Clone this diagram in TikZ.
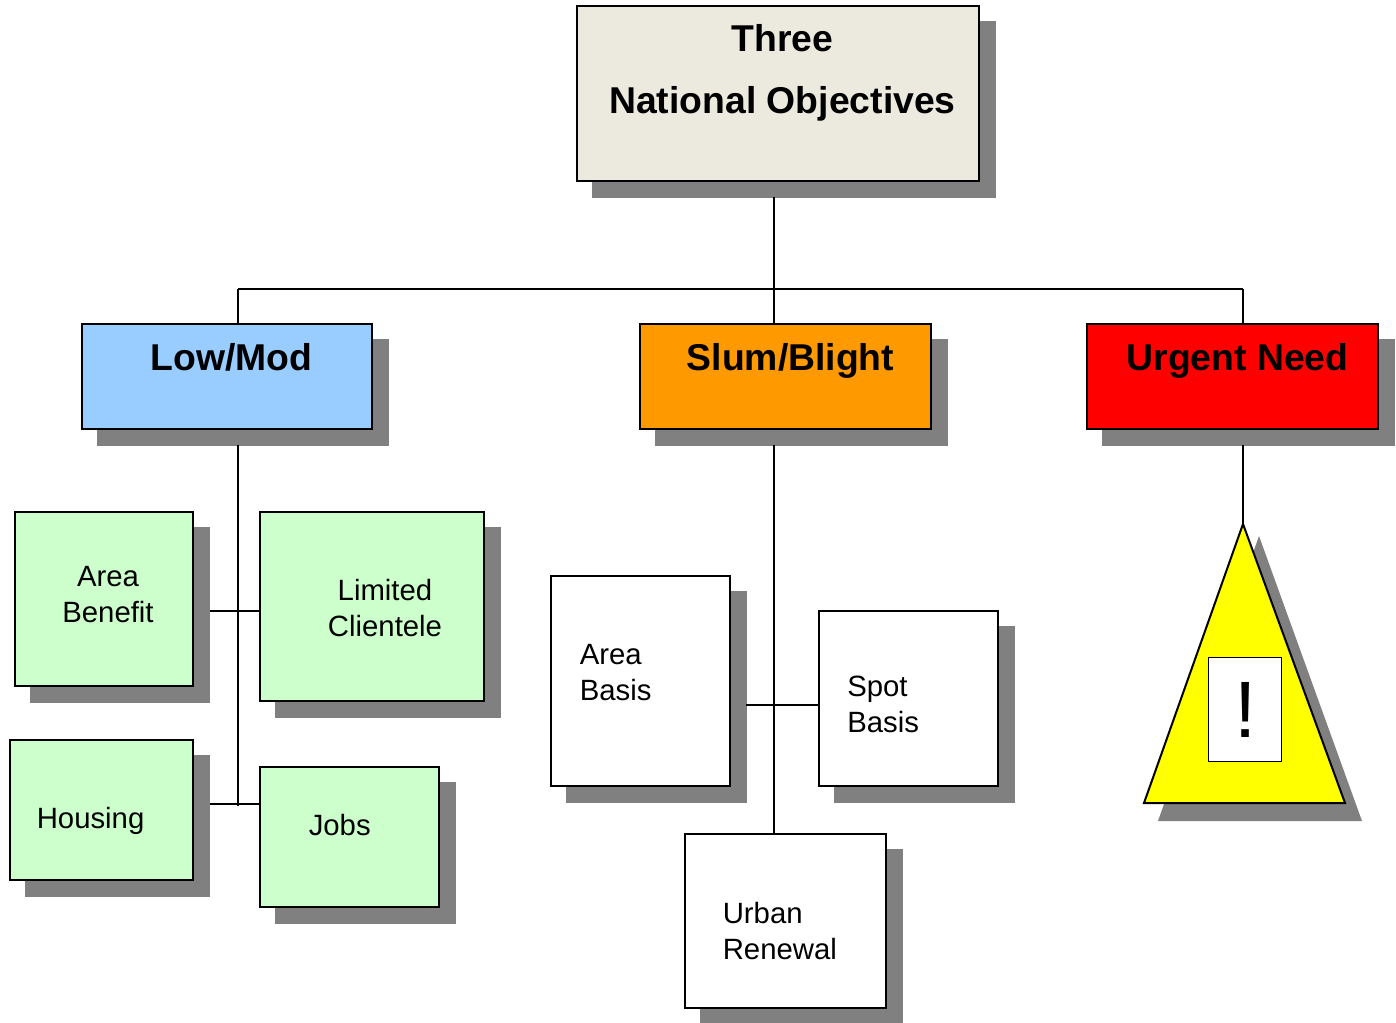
\documentclass[tikz,border=0pt]{standalone}
\usepackage{fontspec}
\setmainfont{Liberation Sans}
\usetikzlibrary{shadows}
\begin{document}
\begin{tikzpicture}
[x=0.75pt,y=-0.75pt,
  boxdecorate/.style={shape=rectangle,draw=black,line width=1.5pt,inner sep=0pt,
    drop shadow={shadow xshift=12pt,shadow yshift=-12pt,fill=shadowgray,draw=shadowgray,line width=1.5pt,opacity=1}},%
  linedecorate/.style={-,line width=1.5pt},%
  headtext/.style={font=\bfseries\fontsize{28}{28}\selectfont,anchor=base,inner sep=0pt},%
  smalltext/.style={font=\fontsize{22}{27}\selectfont,align=left,anchor=base west,inner sep=0pt}]
\definecolor{shadowgray}{RGB}{128,128,128}
\definecolor{titlefill}{RGB}{236,233,222}
\definecolor{lowfill}{RGB}{153,204,255}
\definecolor{slumfill}{RGB}{255,153,0}
\definecolor{greenfill}{RGB}{204,255,204}
\definecolor{urgentfill}{RGB}{255,0,0}
\definecolor{warnfill}{RGB}{255,255,0}
\useasboundingbox (0,0) rectangle (1396,1022);
\begin{scope}
\clip (0,0) rectangle (1396,1022);
%% boxes
\foreach \nodename/\xa/\ya/\xb/\yb/\col in {
  title/576.5/6/979/181/titlefill,
  lowmod/81.5/324/372/429/lowfill,
  slum/640/324/930.5/429/slumfill,
  urgent/1087/324/1377.5/429/urgentfill,
  areaben/14.5/511.5/193/686/greenfill,
  limited/260/511.5/484/701/greenfill,
  housing/9.5/739.5/193/879.5/greenfill,
  jobs/260/766.5/439/906.5/greenfill,
  areabas/551/575.5/729.5/785.5/white,
  spot/819/610.5/997.5/785.5/white,
  urban/685/833.5/886/1007.5/white} {
  \pgfmathsetmacro{\w}{(\xb-\xa)*0.75}
  \pgfmathsetmacro{\h}{(\yb-\ya)*0.75}
  \node (\nodename) at ({(\xa+\xb)/2},{(\ya+\yb)/2}) [boxdecorate,fill=\col,minimum width=\w pt,minimum height=\h pt] {};
}
%% triangle
\fill[shadowgray] (1259,536) -- (1362,821) -- (1158,821) -- cycle;
\draw[fill=warnfill,line width=1.5pt] (1243,524) coordinate (apex) -- (1345,803) -- (1144,803) -- cycle;
\node (mark) at (1245,709) [shape=rectangle,draw=black,line width=0.6pt,fill=white,minimum width=54.5pt,minimum height=78pt,inner sep=0pt] {};
\end{scope}
%% free ends of the lines
\coordinate (topdrop) at (774,197);
\coordinate (rail) at (774,289);
\coordinate (railleft) at (238,289);
\coordinate (railright) at (1243,289);
\coordinate (lowdrop) at (238,445);
\coordinate (lowend) at (238,806);
\coordinate (slumdrop) at (774,445);
\coordinate (slumend) at (774,834);
\coordinate (urgentdrop) at (1243,445);
\coordinate (benefitend) at (210,610.5);
\coordinate (housingend) at (210,804);
\coordinate (areaend) at (746,704.5);
%% lines
\path
  (topdrop) edge[linedecorate] (slum.north -| topdrop)
  (railleft) edge[linedecorate] (railright)
  (railleft) edge[linedecorate] (lowmod.north -| railleft)
  (railright) edge[linedecorate] (urgent.north -| railright)
  (lowdrop) edge[linedecorate] (lowend)
  (slumdrop) edge[linedecorate] (slumend)
  (urgentdrop) edge[linedecorate] (apex)
  (benefitend) edge[linedecorate] (benefitend -| limited.west)
  (housingend) edge[linedecorate] (housingend -| jobs.west)
  (areaend) edge[linedecorate] (areaend -| spot.west);
%% texts
\node (titlea) at (782.5,51) [headtext] {Three};
\node (titleb) at (782.5,113) [headtext] {National Objectives};
\node (lowmodtext) at (231.5,370) [headtext] {Low/Mod};
\node (slumtext) at (790.5,370) [headtext] {Slum/Blight};
\node (urgenttext) at (1237.5,370) [headtext] {Urgent Need};
\node (areabentext) at (108,622) [smalltext,anchor=base,align=center] {Area\\Benefit};
\node (limitedtext) at (385,636) [smalltext,anchor=base,align=center] {Limited\\Clientele};
\node (housingtext) at (36.5,828) [smalltext] {Housing};
\node (jobstext) at (308.5,835) [smalltext] {Jobs};
\node (areabastext) at (579.5,700) [smalltext] {Area\\Basis};
\node (spottext) at (847,732) [smalltext] {Spot\\Basis};
\node (urbantext) at (722.5,959) [smalltext] {Urban\\Renewal};
\node (marktext) at (1245.5,737) [headtext,font=\fontsize{60}{60}\selectfont] {!};
\end{tikzpicture}
\end{document}
